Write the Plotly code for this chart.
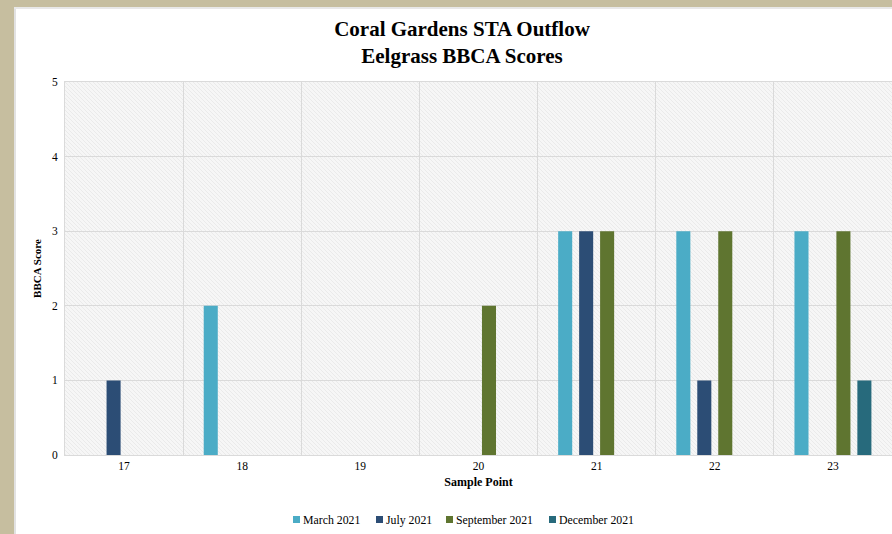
import base64
import plotly.graph_objects as go

categories = ["17", "18", "19", "20", "21", "22", "23"]
series_names = ["March 2021", "July 2021", "September 2021", "December 2021"]
march_2021 = [0, 2, 0, 0, 3, 3, 3]
july_2021 = [1, 0, 0, 0, 3, 1, 0]
september_2021 = [0, 0, 0, 2, 3, 3, 3]
december_2021 = [0, 0, 0, 0, 0, 0, 1]
series_values = [march_2021, july_2021, september_2021, december_2021]
colors = ["#4BACC6", "#2C4D75", "#5F7530", "#276A7C"]

W, H = 892, 534
ml, mr, mt, mb = 65, 0, 82, 79
pw = W - ml - mr
ph = H - mt - mb

def px_x(p):
    return (p - ml) / pw

def px_y(p):
    return (H - mb - p) / ph

serif = "Liberation Serif, Times New Roman, serif"

fig = go.Figure()
for name, vals, col in zip(series_names, series_values, colors):
    fig.add_trace(go.Bar(
        x=categories, y=[v if v else None for v in vals], name=name,
        marker=dict(color=col, line=dict(width=0)),
        showlegend=False,
    ))

# hatched plot background (style only)
svg = (
    f'<svg xmlns="http://www.w3.org/2000/svg" width="{pw}" height="{ph}">'
    '<defs><pattern id="h" width="4" height="4" patternUnits="userSpaceOnUse">'
    '<rect width="4" height="4" fill="#F6F6F6"/>'
    '<path d="M-1,-1 L5,5 M-1,3 L1,5 M3,-1 L5,1" stroke="#EAEAEA" stroke-width="1"/>'
    '</pattern></defs>'
    f'<rect width="{pw}" height="{ph}" fill="url(#h)"/></svg>'
)
uri = "data:image/svg+xml;base64," + base64.b64encode(svg.encode()).decode()
fig.add_layout_image(dict(source=uri, xref="paper", yref="paper", x=0, y=1,
                          sizex=1, sizey=1, sizing="stretch", xanchor="left",
                          yanchor="top", layer="below"))

# tan frame
tan = "#C6BE9F"
fig.add_shape(type="rect", xref="paper", yref="paper", layer="above",
              x0=px_x(-5), x1=px_x(W + 5), y0=px_y(7), y1=px_y(-5),
              fillcolor=tan, line=dict(width=0))
fig.add_shape(type="rect", xref="paper", yref="paper", layer="above",
              x0=px_x(-5), x1=px_x(14), y0=px_y(H + 5), y1=px_y(-5),
              fillcolor=tan, line=dict(width=0))
fig.add_shape(type="line", xref="paper", yref="paper", layer="above",
              x0=px_x(15), x1=px_x(15), y0=px_y(H + 5), y1=px_y(7.5),
              line=dict(color="#E2E2E2", width=2))
fig.add_shape(type="line", xref="paper", yref="paper", layer="above",
              x0=px_x(14), x1=px_x(W + 5), y0=px_y(8), y1=px_y(8),
              line=dict(color="#E8E8E8", width=2))

# legend (squares + labels)
leg_sq_x = [293, 376, 446, 549]
leg_y = 519.5
for name, col, sx in zip(series_names, colors, leg_sq_x):
    fig.add_shape(type="rect", xref="paper", yref="paper",
                  x0=px_x(sx), x1=px_x(sx + 7), y0=px_y(leg_y + 3.5), y1=px_y(leg_y - 3.5),
                  fillcolor=col, line=dict(width=0))
    fig.add_annotation(text=name, xref="paper", yref="paper", x=px_x(sx + 7.5),
                       y=px_y(leg_y), xanchor="left", yanchor="middle", showarrow=False,
                       font=dict(family=serif, size=11.8, color="#000000"))

fig.update_layout(
    width=W, height=H,
    margin=dict(l=ml, r=mr, t=mt, b=mb),
    paper_bgcolor="white",
    plot_bgcolor="#EFEFEF",
    barmode="group",
    bargap=0.29,
    bargroupgap=0.33,
    showlegend=False,
    font=dict(family=serif, size=11.5, color="#000000"),
    title=dict(
        text="<b>Coral Gardens STA Outflow<br>Eelgrass BBCA Scores</b>",
        font=dict(family=serif, size=21, color="#000000"),
        x=462 / W, xref="container", xanchor="center",
        y=1 - 36 / H, yref="container", yanchor="middle",
    ),
    xaxis=dict(
        type="category", tickson="boundaries",
        showgrid=True, gridcolor="#DADADA", gridwidth=1,
        ticks="", showline=True, linecolor="#DADADA", linewidth=1, mirror=True,
        tickfont=dict(family=serif, size=11.5, color="#000000"),
        title=dict(text="<b>Sample Point</b>", font=dict(family=serif, size=12), standoff=6),
        range=[-0.5, 6.5],
    ),
    yaxis=dict(
        range=[0, 5], dtick=1, tick0=0,
        showgrid=True, gridcolor="#DADADA", gridwidth=1,
        zeroline=False, ticks="", showline=True, linecolor="#DADADA", linewidth=1, mirror=True,
        tickfont=dict(family=serif, size=11.5, color="#000000"),
        ticklabelstandoff=4,
        title=dict(text="<b>BBCA Score</b>", font=dict(family=serif, size=11), standoff=8),
    ),
)

fig.write_html("out.html", config={"displayModeBar": False},
               post_script="document.body.style.margin='0';")
